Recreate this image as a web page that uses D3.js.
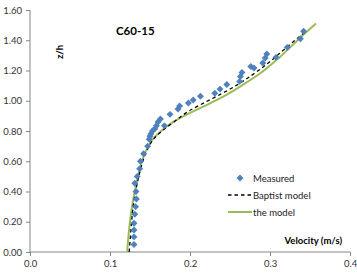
<!DOCTYPE html>
<html><head><meta charset="utf-8">
<script src="https://cdn.jsdelivr.net/npm/d3@7"></script>
<style>body{margin:0;background:#fff}svg{display:block}text{font-family:Lato,"Open Sans",sans-serif}</style>
</head><body><svg id="c" width="357" height="274"></svg>
<script>
const xTicks = [0.0, 0.1, 0.2, 0.3, 0.4];
const yTicks = [0.0, 0.2, 0.4, 0.6, 0.8, 1.0, 1.2, 1.4, 1.6];
const measuredV = [.130,.130,.130,.130,.131,.132,.133,.1325,.131,.134,.137,.138,.142,.147,.149,.150,.151,.153,.156,.158,.160,.163,.168,.175,.185,.187,.198,.204,.213,.231,.2375,.246,.262,.263,.265,.276,.280,.291,.294,.296,.3075,.3216,.338,.342];
const measuredZ = [.05,.10,.145,.19,.25,.30,.35,.40,.455,.50,.55,.60,.65,.70,.745,.765,.78,.80,.815,.835,.86,.88,.835,.91,.945,.965,.985,1.005,1.03,1.05,1.077,1.108,1.128,1.16,1.187,1.227,1.217,1.25,1.283,1.309,1.287,1.353,1.41,1.459];
const baptistV = [.124,.1255,.127,.129,.132,.136,.141,.147,.155,.165,.180,.198,.219,.239,.259,.279,.299,.319,.345];
const baptistZ = [0,.1,.2,.3,.4,.5,.6,.68,.75,.80,.86,.93,.99,1.045,1.105,1.175,1.255,1.345,1.46];
const modelV = [.1215,.123,.125,.1275,.131,.135,.140,.146,.154,.164,.179,.200,.222,.246,.266,.2875,.3125,.3375,.3575];
const modelZ = [0,.1,.2,.3,.4,.5,.6,.68,.75,.80,.86,.92,.975,1.04,1.105,1.18,1.29,1.415,1.51];

const svg = d3.select('#c');
const x = d3.scaleLinear().domain([0,0.4]).range([30,350]);
const y = d3.scaleLinear().domain([0,1.6]).range([252,10]);
const axisCol = '#868686';

const xa = svg.append('g').attr('transform','translate(0,252)')
  .call(d3.axisBottom(x).tickValues(xTicks).tickFormat(d3.format('.1f')).tickSize(4).tickPadding(4));
const ya = svg.append('g').attr('transform','translate(30,0)')
  .call(d3.axisLeft(y).tickValues(yTicks).tickFormat(d3.format('.2f')).tickSize(4).tickPadding(4));
[xa,ya].forEach(a=>{
  a.selectAll('path,line').attr('stroke',axisCol);
  a.selectAll('text').attr('fill','#333').style('font-size','9.5px').style('font-family','Lato,"Open Sans",sans-serif');
});
xa.select('.domain').attr('d','M30,0H350');
ya.select('.domain').attr('d','M0,10V252');

const line = d3.line().x(d=>x(d[0])).y(d=>y(d[1])).curve(d3.curveMonotoneY);
svg.append('path').datum(modelV.map((v,i)=>[v,modelZ[i]]))
  .attr('d',line).attr('fill','none').attr('stroke','#9BBB59').attr('stroke-width',2);
svg.append('path').datum(baptistV.map((v,i)=>[v,baptistZ[i]]))
  .attr('d',line).attr('fill','none').attr('stroke','#000').attr('stroke-width',1.3).attr('stroke-dasharray','3.5,3');

const sym = d3.symbol().type(d3.symbolSquare).size(24);
svg.append('g').selectAll('path').data(measuredV.map((v,i)=>[v,measuredZ[i]])).join('path')
  .attr('d',sym).attr('transform',d=>`translate(${x(d[0])},${y(d[1])}) rotate(45)`)
  .attr('fill','#4F81BD');

svg.append('text').attr('x',116).attr('y',35).text('C60-15').style('font-size','11.5px').style('font-weight','bold').attr('fill','#000');
svg.append('text').attr('transform','translate(63,52) rotate(-90)').attr('text-anchor','middle').text('z/h')
  .style('font-size','9.5px').style('font-weight','bold').attr('fill','#000');
svg.append('text').attr('x',342).attr('y',244).attr('text-anchor','end').text('Velocity (m/s)')
  .style('font-size','9.5px').style('font-weight','bold').attr('fill','#000');

const lg = svg.append('g');
lg.append('path').attr('d',sym).attr('transform','translate(240,178) rotate(45)').attr('fill','#4F81BD');
lg.append('line').attr('x1',228).attr('x2',252).attr('y1',195).attr('y2',195).attr('stroke','#000').attr('stroke-width',1.3).attr('stroke-dasharray','3.5,3');
lg.append('line').attr('x1',228).attr('x2',252).attr('y1',212).attr('y2',212).attr('stroke','#9BBB59').attr('stroke-width',2);
const lt = [['Measured',178],['Baptist model',195],['the model',212]];
lg.selectAll('text.l').data(lt).join('text').attr('x',253).attr('y',d=>d[1]+3.5).text(d=>d[0])
  .style('font-size','9.5px').attr('fill','#222');
</script></body></html>
